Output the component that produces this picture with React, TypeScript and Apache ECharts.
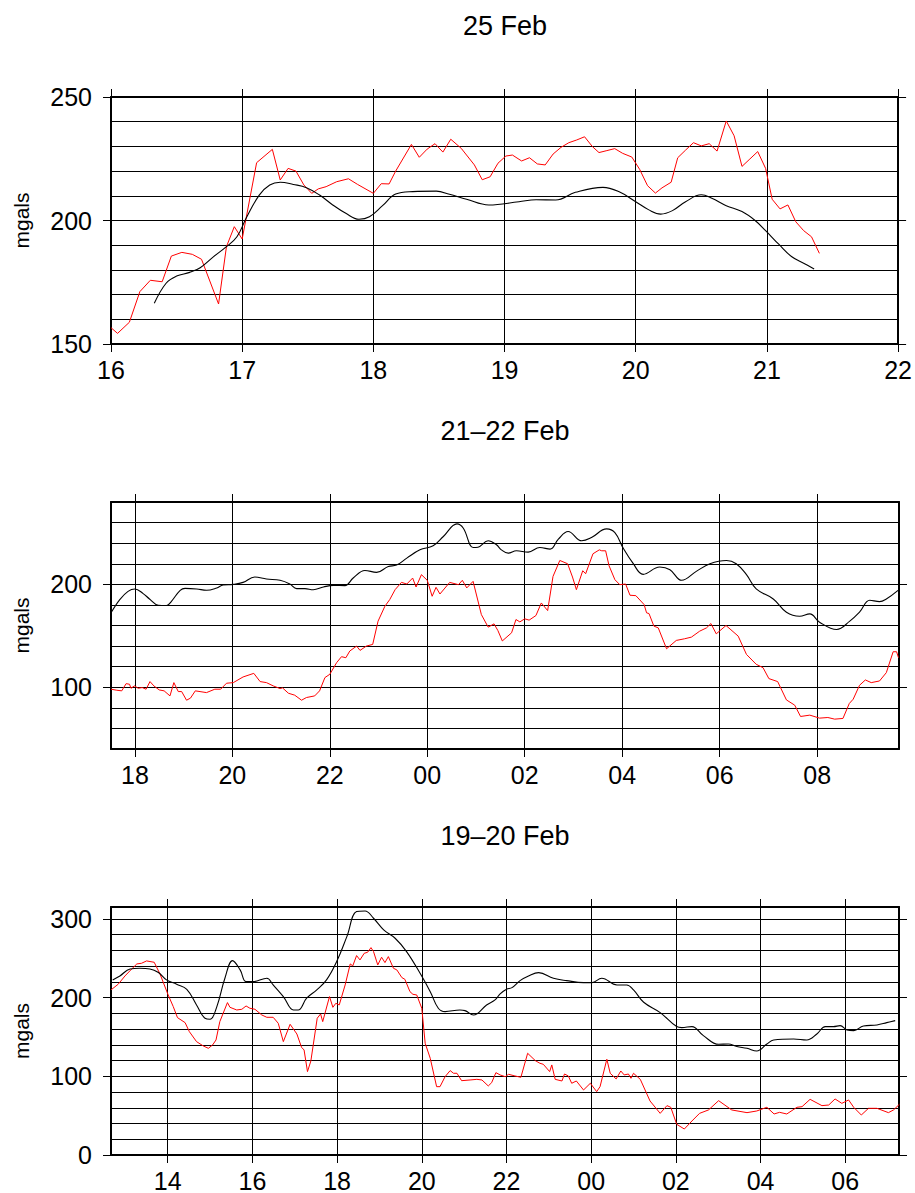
import React, { useEffect, useRef } from "react";
import * as echarts from "echarts";

// ---------- Data ----------
const titles = ["25 Feb", "21\u201322 Feb", "19\u201320 Feb"];
const yName = "mgals";

// Panel 1 (x in days of Feb)
const p1Red: number[][] = [
  [16.0, 156.6], [16.05, 154.3], [16.14, 158.8], [16.22, 171.2], [16.3, 175.8], [16.39, 175.2], [16.46, 185.6],
  [16.54, 187.1], [16.62, 186.3], [16.69, 184.3], [16.82, 166.2], [16.88, 189.4], [16.94, 197.5], [17.0, 192.5],
  [17.11, 223.4], [17.23, 228.8], [17.29, 216.4], [17.35, 221.1], [17.41, 220.0], [17.47, 214.4], [17.53, 211.0],
  [17.58, 212.8], [17.64, 213.7], [17.72, 215.7], [17.81, 216.9], [17.88, 214.6], [18.0, 211.0], [18.06, 214.9],
  [18.12, 214.8], [18.17, 220.0], [18.29, 230.8], [18.35, 225.6], [18.41, 228.9], [18.47, 231.1], [18.53, 227.7],
  [18.59, 232.9], [18.67, 229.2], [18.77, 222.5], [18.83, 216.5], [18.89, 217.7], [18.95, 223.2], [19.01, 226.1],
  [19.06, 226.5], [19.13, 224.1], [19.19, 225.4], [19.25, 222.9], [19.31, 222.5], [19.37, 226.9], [19.43, 229.6],
  [19.49, 231.5], [19.55, 232.6], [19.61, 233.9], [19.67, 229.9], [19.72, 227.5], [19.78, 228.3], [19.84, 229.1],
  [19.9, 227.2], [19.97, 225.7], [20.03, 220.7], [20.09, 214.1], [20.15, 211.1], [20.2, 213.2], [20.27, 215.5],
  [20.32, 225.4], [20.38, 228.5], [20.44, 231.5], [20.5, 230.2], [20.56, 231.1], [20.62, 228.1], [20.69, 240.3],
  [20.75, 234.3], [20.81, 221.9], [20.87, 224.9], [20.93, 227.9], [20.99, 221.1], [21.04, 208.6], [21.1, 204.7],
  [21.16, 206.3], [21.22, 199.5], [21.28, 195.9], [21.34, 193.4], [21.4, 186.7],
];
const p1Black: number[][] = [
  [16.33, 166.5], [16.42, 174.6], [16.5, 177.5], [16.6, 179.0], [16.68, 180.9], [16.78, 185.3], [16.88, 189.4],
  [16.96, 193.4], [17.03, 200.9], [17.13, 210.3], [17.21, 214.4], [17.29, 215.5], [17.39, 214.6], [17.49, 213.3],
  [17.59, 210.3], [17.69, 206.3], [17.79, 202.9], [17.89, 200.5], [17.97, 201.5], [18.07, 206.0], [18.17, 210.7],
  [18.3, 211.7], [18.48, 211.9], [18.58, 210.6], [18.71, 208.6], [18.88, 206.3], [19.11, 207.6], [19.24, 208.4],
  [19.39, 208.3], [19.54, 211.4], [19.75, 213.4], [19.87, 211.7], [20.0, 207.6], [20.1, 204.3], [20.19, 202.6],
  [20.28, 204.0], [20.38, 207.6], [20.5, 210.4], [20.58, 209.0], [20.69, 206.0], [20.81, 203.6], [20.91, 200.0],
  [20.99, 195.9], [21.09, 190.4], [21.19, 185.3], [21.28, 182.7], [21.36, 180.4],
];

// Panel 2 (x in hours from 00:00 on 21 Feb)
const p2Black: number[][] = [
  [17.51, 172.3], [17.69, 185.2], [17.86, 193.2], [18.0, 195.5], [18.17, 191.0], [18.3, 185.8], [18.48, 179.7],
  [18.65, 179.4], [18.75, 183.5], [18.93, 194.2], [19.03, 196.1], [19.27, 195.5], [19.47, 194.2], [19.68, 196.5],
  [19.81, 199.4], [20.02, 200.0], [20.22, 201.9], [20.46, 207.1], [20.7, 205.2], [20.98, 203.9], [21.18, 200.3],
  [21.32, 195.8], [21.49, 195.8], [21.66, 194.8], [21.87, 197.4], [22.07, 199.0], [22.31, 198.7], [22.48, 206.1],
  [22.72, 213.5], [22.96, 211.6], [23.2, 217.4], [23.37, 218.7], [23.58, 225.5], [23.85, 233.5], [24.12, 237.4],
  [24.33, 246.5], [24.61, 258.7], [24.74, 254.5], [24.94, 235.8], [25.04, 236.1], [25.25, 242.3], [25.42, 238.4],
  [25.52, 233.5], [25.66, 230.3], [25.83, 232.6], [26.07, 231.3], [26.31, 235.8], [26.52, 234.2], [26.69, 243.9],
  [26.89, 251.3], [27.17, 242.3], [27.37, 245.5], [27.68, 253.9], [27.85, 250.3], [28.02, 235.2], [28.22, 220.6],
  [28.43, 209.7], [28.77, 216.8], [28.98, 214.2], [29.22, 203.9], [29.52, 212.6], [29.8, 220.0], [30.14, 223.2],
  [30.34, 220.0], [30.55, 209.4], [30.75, 195.5], [31.1, 185.8], [31.37, 172.9], [31.64, 169.0], [31.85, 171.3],
  [32.05, 163.2], [32.4, 156.1], [32.67, 164.2], [32.87, 172.9], [33.08, 184.5], [33.28, 183.2], [33.42, 185.8],
  [33.66, 194.2],
];
const p2Red: number[][] = [
  [17.51, 98.1], [17.63, 97.1], [17.73, 96.5], [17.82, 103.5], [17.89, 102.9], [17.92, 99.0], [17.99, 101.3],
  [18.07, 99.0], [18.15, 99.7], [18.23, 98.1], [18.31, 105.5], [18.39, 101.3], [18.5, 97.4], [18.6, 96.5],
  [18.72, 91.6], [18.8, 104.5], [18.89, 95.8], [18.96, 95.8], [19.06, 87.4], [19.14, 89.4], [19.24, 96.5],
  [19.47, 94.8], [19.64, 98.1], [19.76, 98.1], [19.88, 103.9], [20.02, 104.5], [20.22, 110.0], [20.44, 113.5],
  [20.57, 105.5], [20.7, 104.5], [20.84, 101.3], [20.98, 98.7], [21.03, 99.4], [21.15, 94.2], [21.28, 92.3],
  [21.42, 87.4], [21.52, 90.0], [21.69, 91.6], [21.79, 96.5], [21.9, 109.4], [22.0, 112.6], [22.14, 123.9],
  [22.24, 129.7], [22.33, 128.7], [22.41, 135.2], [22.55, 140.0], [22.62, 135.8], [22.75, 140.0], [22.88, 141.6],
  [22.99, 164.2], [23.13, 178.7], [23.23, 185.2], [23.34, 194.8], [23.47, 201.9], [23.58, 200.3], [23.7, 206.1],
  [23.77, 197.4], [23.88, 209.4], [24.0, 203.9], [24.1, 188.4], [24.18, 197.1], [24.26, 190.6], [24.46, 201.9],
  [24.64, 199.7], [24.72, 203.9], [24.81, 196.5], [24.94, 202.9], [25.11, 170.6], [25.25, 158.4], [25.37, 161.6],
  [25.45, 155.0], [25.54, 145.0], [25.73, 152.9], [25.82, 165.8], [25.9, 163.5], [26.0, 166.5], [26.09, 165.2],
  [26.23, 169.7], [26.34, 181.9], [26.47, 174.5], [26.58, 207.7], [26.72, 223.2], [26.88, 220.0], [26.98, 207.1],
  [27.06, 194.8], [27.19, 213.2], [27.25, 210.3], [27.4, 229.7], [27.53, 233.5], [27.58, 232.6], [27.66, 232.6],
  [27.73, 218.1], [27.85, 204.5], [27.95, 199.7], [28.07, 200.3], [28.16, 189.4], [28.28, 189.0], [28.45, 180.3],
  [28.5, 172.3], [28.55, 171.6], [28.65, 159.4], [28.74, 157.7], [28.91, 137.4], [29.11, 145.5], [29.28, 147.1],
  [29.42, 148.7], [29.59, 154.5], [29.73, 157.7], [29.82, 161.9], [29.93, 151.9], [30.13, 160.0], [30.38, 149.7],
  [30.55, 131.9], [30.75, 122.3], [30.89, 119.0], [31.01, 108.4], [31.19, 105.5], [31.37, 87.7], [31.54, 82.6],
  [31.66, 71.6], [31.85, 72.9], [32.05, 70.0], [32.22, 70.6], [32.36, 69.0], [32.53, 69.7], [32.66, 84.2],
  [32.74, 88.4], [32.87, 101.9], [32.99, 107.1], [33.11, 104.5], [33.28, 106.1], [33.42, 114.2], [33.56, 134.5],
  [33.63, 134.5], [33.67, 128.7],
];

// Panel 3 (x in hours from 00:00 on 19 Feb)
const p3Black: number[][] = [
  [12.7, 222.4], [12.87, 227.4], [13.11, 236.3], [13.34, 237.2], [13.58, 236.3], [13.78, 231.7], [13.97, 222.4],
  [14.21, 216.9], [14.45, 210.5], [14.68, 190.6], [14.88, 173.7], [15.0, 172.4], [15.16, 188.5], [15.35, 224.5],
  [15.53, 246.9], [15.71, 235.1], [15.85, 220.2], [16.02, 220.2], [16.34, 224.5], [16.49, 216.0], [16.73, 201.2],
  [16.97, 184.2], [17.08, 184.2], [17.28, 199.1], [17.52, 209.7], [17.75, 222.4], [17.99, 245.7], [18.23, 277.4],
  [18.46, 309.2], [18.66, 310.0], [18.86, 300.7], [19.1, 285.9], [19.37, 275.3], [19.64, 258.4], [19.96, 230.8],
  [20.2, 207.5], [20.39, 186.4], [20.55, 182.1], [20.9, 184.2], [21.02, 183.4], [21.22, 177.9], [21.53, 190.6],
  [21.73, 197.0], [21.85, 204.6], [22.0, 210.5], [22.13, 212.6], [22.32, 221.5], [22.52, 227.4], [22.76, 231.7],
  [23.11, 224.5], [23.42, 221.5], [23.82, 219.0], [24.02, 219.0], [24.25, 224.5], [24.61, 216.0], [24.84, 216.0],
  [25.0, 209.7], [25.24, 194.0], [25.63, 180.9], [26.02, 163.1], [26.14, 161.8], [26.38, 163.1], [26.65, 151.6],
  [27.01, 140.6], [27.24, 141.0], [27.44, 137.7], [27.68, 135.5], [27.91, 132.1], [28.15, 141.0], [28.31, 146.1],
  [28.78, 147.4], [29.09, 146.1], [29.33, 153.7], [29.53, 163.1], [29.72, 163.1], [29.88, 164.3], [30.04, 158.8],
  [30.2, 158.0], [30.43, 163.9], [30.75, 165.2], [30.98, 168.1], [31.18, 170.7],
];
const p3Red: number[][] = [
  [12.66, 209.7], [12.83, 216.9], [12.99, 227.4], [13.15, 236.3], [13.27, 242.7], [13.38, 243.5], [13.5, 246.5],
  [13.68, 244.8], [13.82, 229.6], [14.01, 203.3], [14.13, 188.5], [14.23, 174.5], [14.41, 168.1], [14.51, 156.7],
  [14.68, 144.0], [14.84, 138.5], [14.96, 135.5], [15.06, 139.8], [15.14, 146.1], [15.23, 169.4], [15.41, 193.6],
  [15.47, 187.6], [15.63, 184.2], [15.75, 185.1], [15.85, 189.3], [15.94, 186.4], [16.06, 185.1], [16.22, 177.9],
  [16.34, 174.9], [16.49, 174.9], [16.61, 167.3], [16.73, 144.0], [16.89, 166.0], [17.05, 153.7], [17.16, 136.8],
  [17.22, 133.4], [17.3, 105.9], [17.38, 119.4], [17.53, 173.7], [17.61, 179.2], [17.66, 169.4], [17.82, 201.2],
  [17.9, 187.6], [17.97, 192.7], [18.05, 190.6], [18.19, 216.0], [18.31, 242.7], [18.37, 240.2], [18.46, 253.3],
  [18.54, 247.8], [18.64, 256.2], [18.72, 257.5], [18.8, 263.4], [18.86, 258.4], [18.96, 241.4], [19.05, 251.2],
  [19.13, 244.4], [19.21, 252.0], [19.33, 237.2], [19.41, 235.1], [19.53, 225.3], [19.6, 223.2], [19.72, 207.5],
  [19.79, 204.1], [19.88, 203.3], [20.0, 186.4], [20.08, 141.9], [20.2, 122.8], [20.35, 86.8], [20.43, 86.8],
  [20.55, 99.5], [20.67, 107.2], [20.75, 103.8], [20.83, 103.8], [20.94, 94.4], [21.14, 95.3], [21.3, 96.1],
  [21.42, 95.3], [21.57, 87.7], [21.65, 91.9], [21.75, 104.6], [21.85, 101.7], [21.97, 99.5], [22.05, 102.5],
  [22.2, 100.4], [22.34, 98.7], [22.5, 129.2], [22.68, 119.9], [22.79, 116.5], [22.87, 115.2], [23.02, 105.9],
  [23.07, 114.4], [23.15, 96.1], [23.31, 94.0], [23.37, 102.9], [23.46, 100.4], [23.54, 91.1], [23.65, 94.0],
  [23.82, 82.6], [23.98, 91.1], [24.13, 80.5], [24.21, 86.8], [24.37, 121.6], [24.45, 103.8], [24.59, 96.6],
  [24.7, 106.7], [24.78, 101.7], [24.88, 102.9], [24.94, 97.4], [25.0, 103.8], [25.16, 96.1], [25.39, 68.6],
  [25.63, 52.9], [25.79, 62.7], [25.88, 60.6], [26.02, 39.0], [26.2, 33.0], [26.38, 43.2], [26.56, 52.9],
  [26.77, 57.2], [27.01, 69.0], [27.32, 57.2], [27.68, 53.8], [27.91, 55.9], [28.15, 60.6], [28.32, 52.1],
  [28.45, 54.2], [28.62, 52.1], [28.86, 60.6], [28.98, 61.4], [29.17, 70.7], [29.45, 62.7], [29.61, 63.5],
  [29.76, 71.2], [29.92, 65.6], [30.08, 69.9], [30.2, 60.6], [30.38, 50.8], [30.55, 59.3], [30.75, 59.3],
  [31.02, 53.8], [31.14, 57.2], [31.28, 64.4],
];

// Axis ranges and ticks
const p1X = { min: 16, max: 22 };
const p2X = { min: 17.51, max: 33.68 };
const p3X = { min: 12.66, max: 31.27 };
const p2XTicks = [18, 20, 22, 24, 26, 28, 30, 32];
const p3XTicks = [14, 16, 18, 20, 22, 24, 26, 28, 30];
const p1Y = { min: 150, max: 250, minor: 10, major: [150, 200, 250] };
const p2Y = { min: 40, max: 280, minor: 20, major: [100, 200] };
const p3Y = { min: 0, max: 315, minor: 20, major: [0, 100, 200, 300] };

// ---------- Chart ----------
const FONT = "'Liberation Sans', Arial, Helvetica, sans-serif";
const grids = [
  { left: 111, top: 97, width: 788, height: 247 },
  { left: 111, top: 502, width: 788, height: 247 },
  { left: 111, top: 907, width: 788, height: 248 },
];
const titleY = [26, 431, 836];

function hourLabel(v: number) {
  const h = ((Math.round(v) % 24) + 24) % 24;
  return String(h).padStart(2, "0");
}

function buildOption() {
  const xAxis: any[] = [];
  const yAxis: any[] = [];
  const series: any[] = [];
  const xs = [p1X, p2X, p3X];
  const ys = [p1Y, p2Y, p3Y];
  const data = [
    [p1Red, p1Black],
    [p2Red, p2Black],
    [p3Red, p3Black],
  ];
  const border = { show: true, onZero: false, lineStyle: { color: "#000", width: 2 } };
  const labelStyle = { color: "#000", fontSize: 25, fontFamily: FONT };

  for (let g = 0; g < 3; g++) {
    const xr = xs[g];
    const custom = g === 1 ? p2XTicks : g === 2 ? p3XTicks : undefined;
    const tickCommon: any = custom
      ? { axisTick: { show: true, length: 8, customValues: custom, lineStyle: { color: "#000", width: 1 } } }
      : { interval: 1, axisTick: { show: true, length: 8, lineStyle: { color: "#000", width: 1 } } };
    xAxis.push({
      type: "value",
      gridIndex: g,
      position: "bottom",
      min: xr.min,
      max: xr.max,
      ...tickCommon,
      axisLine: border,
      splitLine: { show: true, lineStyle: { color: "#000", width: 1 } },
      axisLabel: {
        ...labelStyle,
        margin: 13,
        showMinLabel: true,
        showMaxLabel: true,
        customValues: custom,
        formatter: custom ? (v: number) => hourLabel(v) : (v: number) => String(v),
      },
    });
    xAxis.push({
      type: "value",
      gridIndex: g,
      position: "top",
      min: xr.min,
      max: xr.max,
      ...tickCommon,
      axisLine: border,
      splitLine: { show: false },
      axisLabel: { show: false },
    });

    const yr = ys[g];
    yAxis.push({
      type: "value",
      gridIndex: g,
      position: "left",
      min: yr.min,
      max: yr.max,
      interval: yr.minor,
      axisLine: border,
      axisTick: { show: false },
      axisLabel: { show: false },
      splitLine: { show: true, lineStyle: { color: "#000", width: 1 } },
    });
    yAxis.push({
      type: "value",
      gridIndex: g,
      position: "left",
      min: yr.min,
      max: yr.max,
      axisLine: { show: false },
      axisTick: { show: true, length: 8, customValues: yr.major, lineStyle: { color: "#000", width: 1 } },
      axisLabel: { ...labelStyle, margin: 19, customValues: yr.major, showMinLabel: true, showMaxLabel: true },
      splitLine: { show: false },
    });
    yAxis.push({
      type: "value",
      gridIndex: g,
      position: "right",
      min: yr.min,
      max: yr.max,
      axisLine: border,
      axisTick: { show: true, length: 8, customValues: yr.major, lineStyle: { color: "#000", width: 1 } },
      axisLabel: { show: false },
      splitLine: { show: false },
    });

    series.push({
      type: "line",
      xAxisIndex: g * 2,
      yAxisIndex: g * 3,
      data: data[g][0],
      showSymbol: false,
      symbol: "none",
      lineStyle: { color: "#ff0000", width: 1 },
      z: 3,
    });
    series.push({
      type: "line",
      xAxisIndex: g * 2,
      yAxisIndex: g * 3,
      data: data[g][1],
      showSymbol: false,
      symbol: "none",
      smooth: 0.4,
      lineStyle: { color: "#000000", width: 1.1 },
      z: 4,
    });
  }

  const graphic: any[] = [];
  for (let g = 0; g < 3; g++) {
    graphic.push({
      type: "text",
      x: 505,
      y: titleY[g],
      style: {
        text: titles[g],
        fill: "#000",
        font: `27px ${FONT}`,
        align: "center",
        verticalAlign: "middle",
      },
    });
    graphic.push({
      type: "text",
      x: 21,
      y: grids[g].top + grids[g].height / 2,
      rotation: Math.PI / 2,
      style: {
        text: yName,
        fill: "#000",
        font: `21px ${FONT}`,
        align: "center",
        verticalAlign: "middle",
      },
    });
  }

  return {
    animation: false,
    backgroundColor: "#ffffff",
    grid: grids.map((g) => ({ ...g, containLabel: false })),
    xAxis,
    yAxis,
    series,
    graphic,
  };
}

export default function App() {
  const ref = useRef<HTMLDivElement>(null);
  useEffect(() => {
    if (!ref.current) return;
    const chart = echarts.init(ref.current, undefined, { renderer: "svg" });
    chart.setOption(buildOption() as any);
    return () => chart.dispose();
  }, []);
  return (
    <div
      ref={ref}
      style={{ position: "absolute", left: 0, top: 0, width: 915, height: 1193, background: "#fff" }}
    />
  );
}
